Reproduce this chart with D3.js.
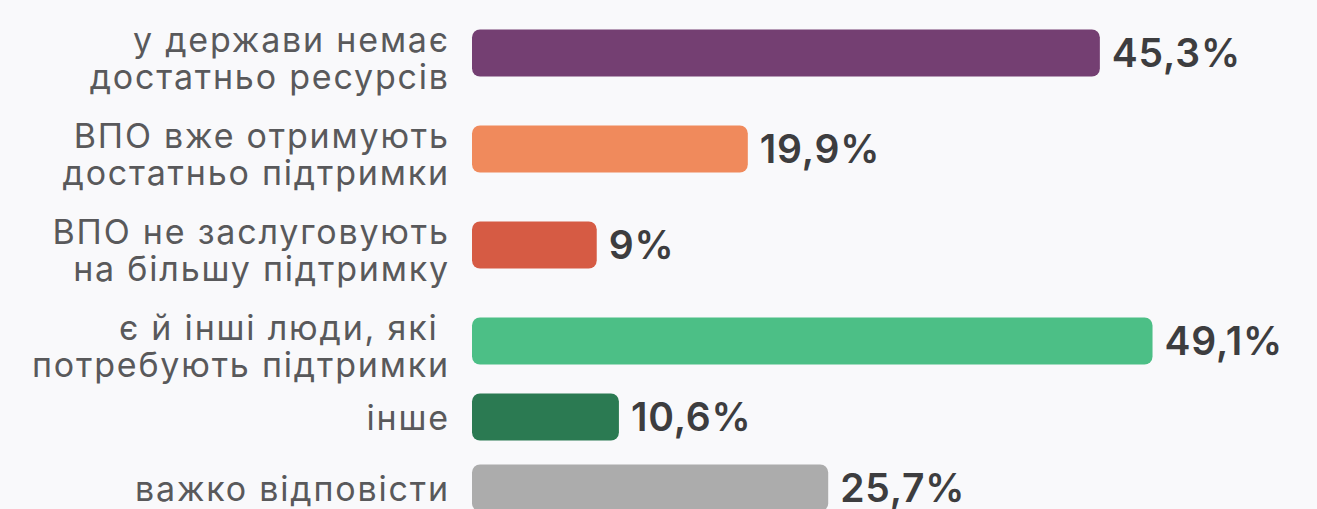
<!DOCTYPE html>
<html>
<head>
<meta charset="utf-8">
<script src="https://cdn.jsdelivr.net/npm/d3@7"></script>
<style>
  html, body { margin: 0; padding: 0; background: #f9f9fb; }
  #chart { width: 1317px; height: 509px; overflow: hidden; }
  text { font-family: Inter, "Open Sans", sans-serif; }
</style>
</head>
<body>
<div id="chart"></div>
<script>
// data
const labels = [
  ["у держави немає", "достатньо ресурсів"],
  ["ВПО вже отримують", "достатньо підтримки"],
  ["ВПО не заслуговують", "на більшу підтримку"],
  ["є й інші люди, які ", "потребують підтримки"],
  ["інше"],
  ["важко відповісти"]
];
const values = [45.3, 19.9, 9, 49.1, 10.6, 25.7];
const valueLabels = ["45,3%", "19,9%", "9%", "49,1%", "10,6%", "25,7%"];
const colors = ["#743f72", "#f08a5c", "#d65b44", "#4cbf86", "#2b7a52", "#acacac"];

const W = 1317, H = 509;
const X0 = 472;
const BAR_H = 47;
const LINE_H = 37;
const LS = 1.8; // label letter spacing

const svg = d3.select("#chart").append("svg")
  .attr("width", W).attr("height", H);

const x = d3.scaleLinear().domain([0, 50]).range([X0, X0 + 693]);

// row layout depends on how many lines the label takes
const rowH = n => n > 1 ? 96 : 71;
const barOff = n => n > 1 ? 53 : 33;
let acc = 0;
const centers = labels.map(l => {
  const c = acc + barOff(l.length);
  acc += rowH(l.length);
  return c;
});
const y = d3.scaleOrdinal().domain(d3.range(labels.length)).range(centers);

const rows = svg.selectAll("g.row")
  .data(values)
  .enter()
  .append("g")
  .attr("class", "row");

rows.append("rect")
  .attr("x", x(0))
  .attr("y", (d, i) => y(i) - BAR_H / 2)
  .attr("width", d => x(d) - x(0))
  .attr("height", BAR_H)
  .attr("rx", 8)
  .attr("fill", (d, i) => colors[i]);

rows.append("text")
  .attr("x", d => x(d) + 12)
  .attr("y", (d, i) => y(i) + 14)
  .attr("font-size", 39)
  .attr("font-weight", 600)
  .attr("letter-spacing", 0.8)
  .attr("fill", "#3d3d3f")
  .text((d, i) => valueLabels[i]);

rows.each(function(d, i) {
  const lines = labels[i];
  const base = y(i) + 13 - 14 * (lines.length - 1);
  const t = d3.select(this).append("text")
    .attr("text-anchor", "end")
    .attr("font-size", 34)
    .attr("letter-spacing", LS)
    .attr("fill", "#59595b");
  lines.forEach((ln, j) => {
    t.append("tspan")
      .attr("x", 448 + LS)
      .attr("y", base + j * LINE_H)
      .attr("xml:space", "preserve")
      .text(ln);
  });
});
</script>
</body>
</html>
